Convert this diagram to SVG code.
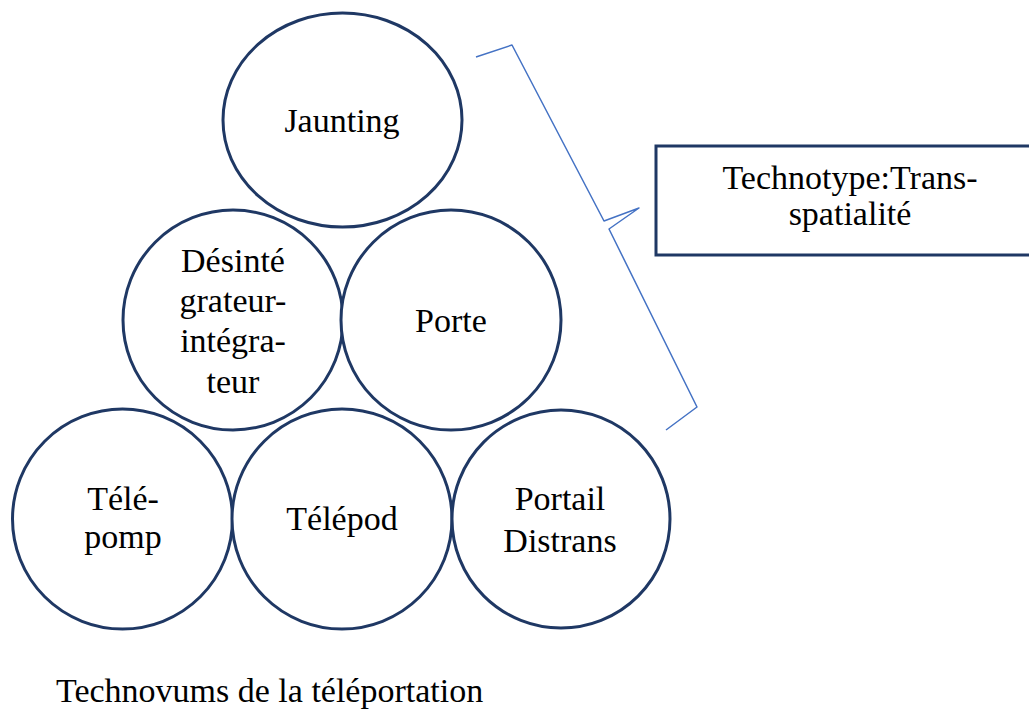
<svg xmlns="http://www.w3.org/2000/svg" width="1029" height="715" viewBox="0 0 1029 715">
<style>
.c{fill:#fff;stroke:#1f3864;stroke-width:3}
.t{font-family:"Liberation Serif",serif;font-size:34px;fill:#000;text-anchor:middle}
.b{fill:none;stroke:#4472c4;stroke-width:1.5;stroke-linejoin:round}
</style>
<rect width="1029" height="715" fill="#fff"/>
<g id="jaunting"><ellipse class="c" cx="342.5" cy="120" rx="119.5" ry="107"/><text class="t" x="342" y="132">Jaunting</text></g>
<g id="desintegrateur"><circle class="c" cx="233" cy="320" r="110"/><text class="t" x="233" y="272">Désinté</text><text class="t" x="233" y="312">grateur-</text><text class="t" x="233" y="352">intégra-</text><text class="t" x="233" y="393">teur</text></g>
<g id="porte"><circle class="c" cx="451" cy="320" r="110"/><text class="t" x="451" y="332">Porte</text></g>
<g id="telepomp"><circle class="c" cx="122.5" cy="519" r="110"/><text class="t" x="123" y="510">Télé-</text><text class="t" x="123" y="548">pomp</text></g>
<g id="telepod"><circle class="c" cx="342" cy="519" r="110"/><text class="t" x="342" y="530">Télépod</text></g>
<g id="portail"><circle class="c" cx="561" cy="519" r="109"/><text class="t" x="560" y="510">Portail</text><text class="t" x="560" y="552">Distrans</text></g>
<g id="connectors"><path class="b" d="M476 57 L512 45 L604 221 L639 208 L609 229 L697 407 L666 430"/></g>
<g id="technotype"><rect x="656" y="146" width="390" height="109" fill="#fff" stroke="#1f3864" stroke-width="3"/><text class="t" x="850" y="189">Technotype:Trans-</text><text class="t" x="850" y="225">spatialité</text></g>
<g id="caption"><text class="t" x="56" y="702" style="text-anchor:start">Technovums de la téléportation</text></g>
</svg>
